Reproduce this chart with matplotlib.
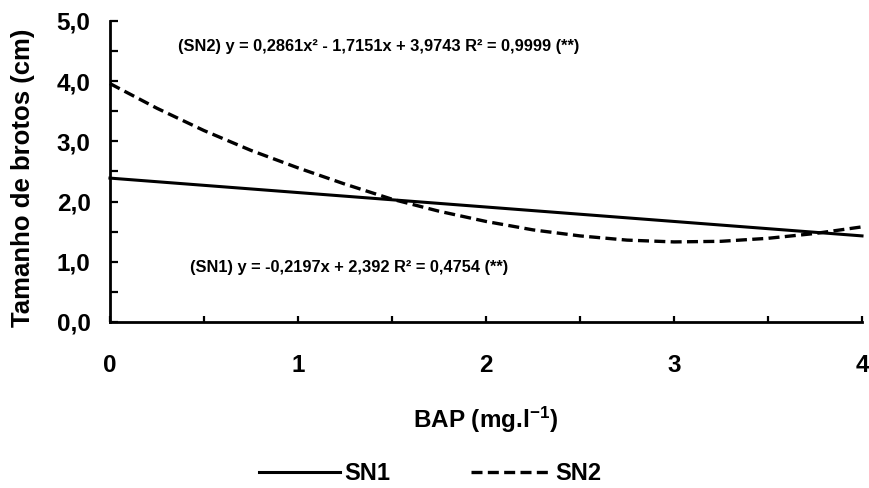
import matplotlib
matplotlib.use("Agg")
import matplotlib.pyplot as plt
from matplotlib.ticker import MultipleLocator, FuncFormatter

plt.rcParams["font.family"] = ["Liberation Sans", "DejaVu Sans"]

# ─── data ────────────────────────────────────────────────────────────────
bap_sn1 = [0.0, 4.0]
tam_sn1 = [2.39, 1.43]

bap_sn2 = [0.0, 0.25, 0.5, 0.75, 1.0, 1.25, 1.5, 1.75, 2.0,
           2.25, 2.5, 2.75, 3.0, 3.25, 3.5, 3.75, 4.0]
tam_sn2 = [3.96, 3.55, 3.18, 2.85, 2.56, 2.29, 2.04, 1.84, 1.67,
           1.53, 1.43, 1.36, 1.33, 1.34, 1.39, 1.47, 1.58]

eq_sn2 = "(SN2) y = 0,2861x² - 1,7151x + 3,9743 R² = 0,9999 (**)"
eq_sn1 = "(SN1) y = -0,2197x + 2,392 R² = 0,4754 (**)"

# ─── figure ──────────────────────────────────────────────────────────────
fig = plt.figure(figsize=(8.7, 4.88), dpi=100)
ax = fig.add_axes([0.1264, 0.3402, 0.8644, 0.6168])

ax.plot(bap_sn1, tam_sn1, color="black", lw=2.2, label="SN1", clip_on=False)
ax.plot(bap_sn2, tam_sn2, color="black", lw=2.4, dashes=(3.3, 1.6),
        label="SN2", clip_on=False)

ax.set_xlim(0, 4)
ax.set_ylim(0, 5)
ax.xaxis.set_major_locator(MultipleLocator(1))
ax.xaxis.set_minor_locator(MultipleLocator(0.5))
ax.yaxis.set_major_locator(MultipleLocator(1))
ax.yaxis.set_minor_locator(MultipleLocator(0.5))
ax.yaxis.set_major_formatter(FuncFormatter(lambda v, p: f"{v:.1f}".replace(".", ",")))

for s in ("top", "right"):
    ax.spines[s].set_visible(False)
for s in ("left", "bottom"):
    ax.spines[s].set_linewidth(2.0)

ax.tick_params(axis="both", which="both", direction="in", width=1.6, color="black")
ax.tick_params(axis="y", which="both", length=6, pad=14)
ax.tick_params(axis="x", which="both", length=4, pad=23)
for lab in ax.get_xticklabels() + ax.get_yticklabels():
    lab.set_fontsize(17.5)
    lab.set_fontweight("bold")

ax.set_ylabel("Tamanho de brotos (cm)", fontsize=18.5, fontweight="bold")
ax.yaxis.set_label_coords(-0.1, 0.48)
ax.set_xlabel(r"BAP (mg.l$\mathregular{^{-1}}$)", fontsize=17.5, fontweight="bold",
              labelpad=20)

ax.text(0.36, 4.57, eq_sn2, fontsize=11.8, fontweight="bold", va="center")
ax.text(0.426, 0.90, eq_sn1, fontsize=11.8, fontweight="bold", va="center")

fig.legend(loc="center", bbox_to_anchor=(0.495, 0.029), ncol=2, frameon=False,
           prop={"size": 17, "weight": "bold"}, handlelength=3.4,
           handletextpad=0.2, columnspacing=3.4, borderpad=0, borderaxespad=0)

fig.savefig("out.png", dpi=100)
